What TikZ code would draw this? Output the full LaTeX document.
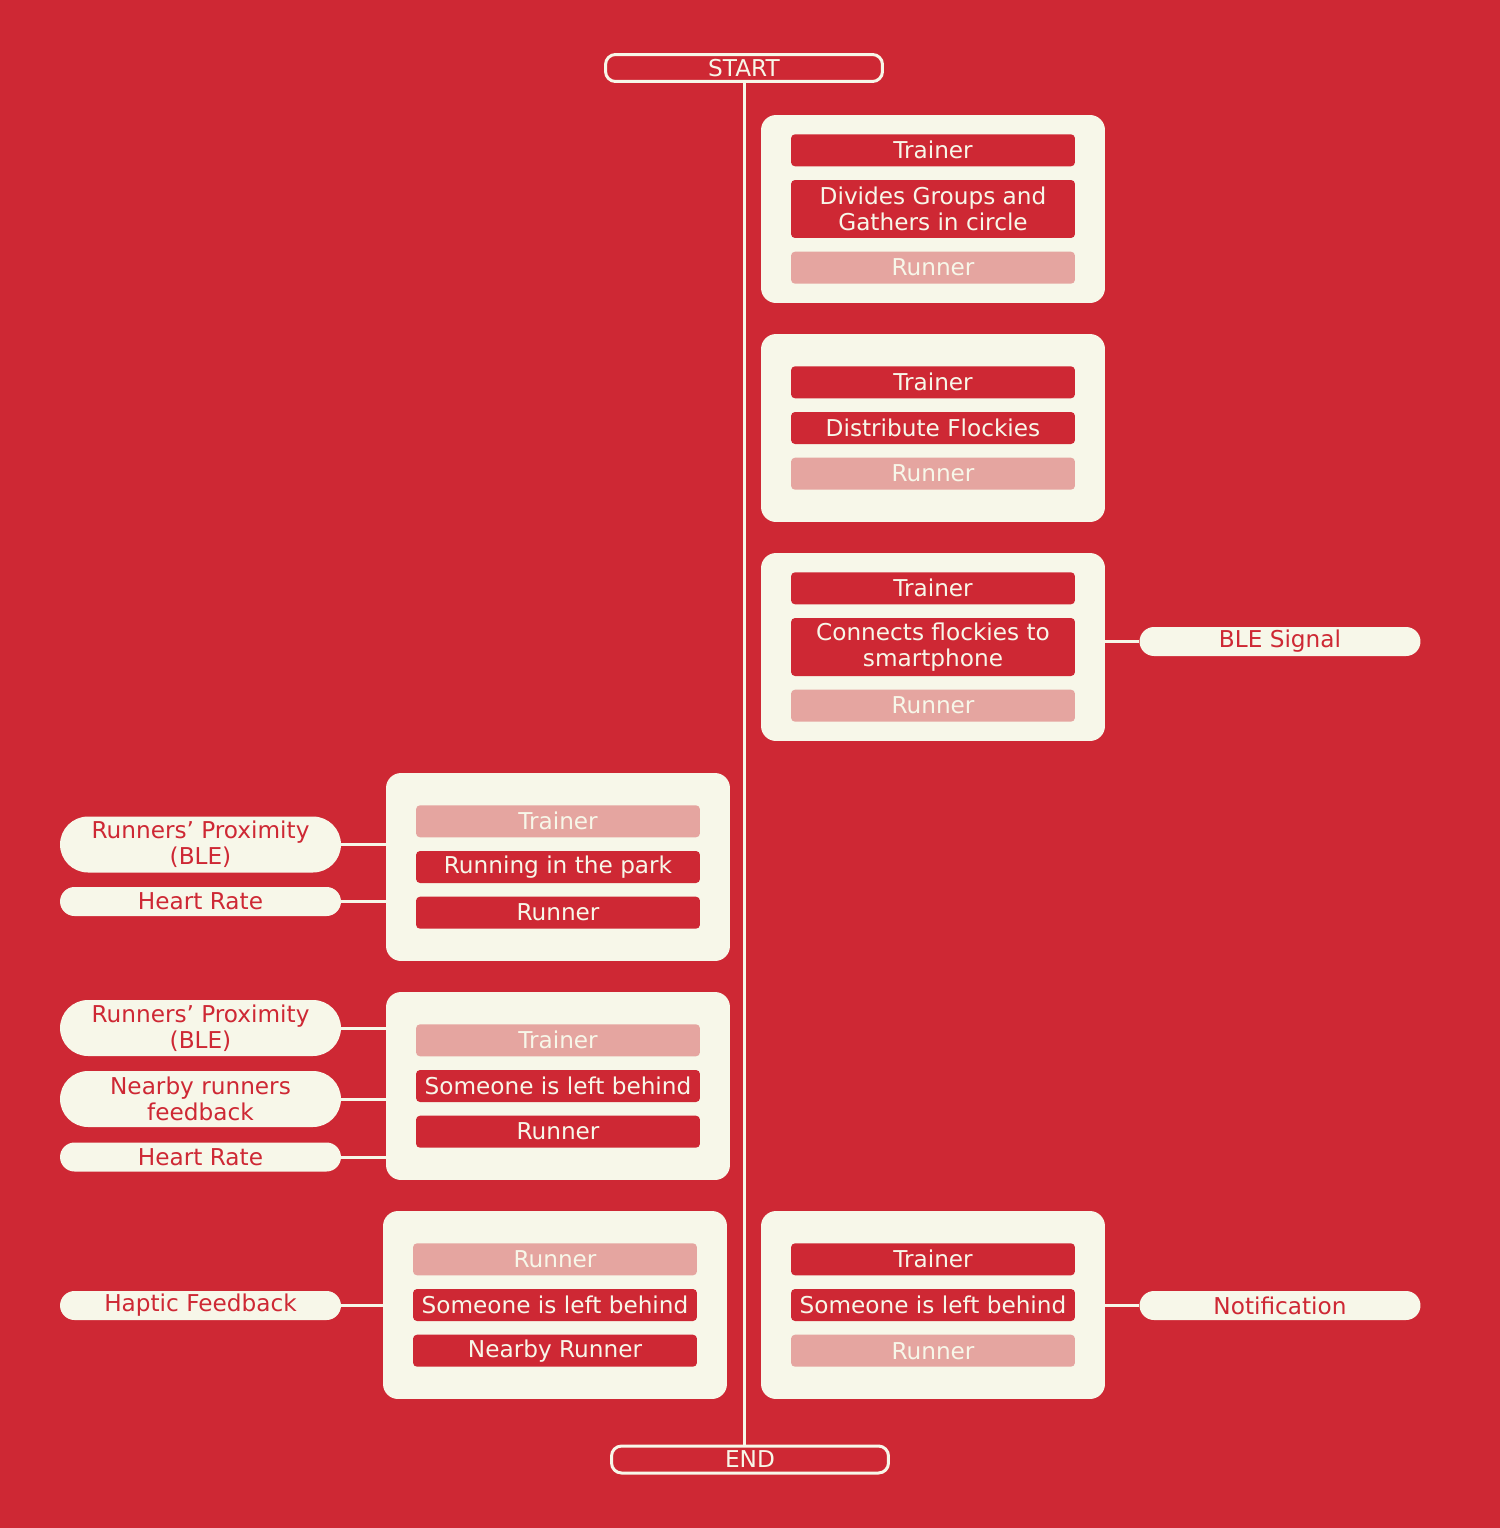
\documentclass[tikz,border=0pt]{standalone}
\usepackage{fontspec}
\setmainfont{DejaVu Sans}
\usetikzlibrary{positioning,shapes.misc}
\definecolor{flockred}{HTML}{CE2834}
\definecolor{cream}{HTML}{F7F7E9}
\definecolor{blush}{HTML}{E5A5A0}
\newcommand{\flockfont}{\fontsize{13.2}{15}\selectfont}
\tikzset{
  card/.style={fill=cream,rounded corners=0.3cm,minimum width=6.88cm,minimum height=3.76cm},
  bar/.style={fill=flockred,text=cream,rounded corners=0.08cm,minimum width=5.68cm,minimum height=0.64cm,inner sep=0pt,align=center,font=\flockfont},
  barlight/.style={bar,fill=blush},
  pill/.style={rounded rectangle,fill=cream,text=flockred,minimum width=5.62cm,minimum height=0.58cm,inner sep=0pt,align=center,font=\flockfont},
  terminal/.style={draw=cream,line width=0.06cm,rounded corners=0.2cm,text=cream,minimum width=5.54cm,minimum height=0.54cm,inner sep=0pt,font=\flockfont},
  link/.style={draw=cream,line width=0.06cm}
}
\begin{document}
\begin{tikzpicture}[x=0.02cm,y=-0.02cm]
  \fill[flockred] (0,0) rectangle (1500,1528);
  \useasboundingbox (0,0) rectangle (1500,1528);
  % start and end
  \node[terminal] (start) at (744,68) {START};
  \node[terminal] (end) at (750,1459.5) {END};
  \draw[link] (start.south) -- (start.south |- end.north);
  % right column
  \node[card] (gather) at (933,209) {};
  \node[bar,minimum height=1.16cm] (gathermid) at (gather) {Divides Groups and\\Gathers in circle};
  \node[bar,above=0.26cm of gathermid] (gathertop) {Trainer};
  \node[barlight,below=0.26cm of gathermid] (gatherbot) {Runner};

  \node[card] (distribute) at (933,428) {};
  \node[bar] (distributemid) at (distribute) {Distribute Flockies};
  \node[bar,above=0.26cm of distributemid] (distributetop) {Trainer};
  \node[barlight,below=0.26cm of distributemid] (distributebot) {Runner};

  \node[card] (connect) at (933,647) {};
  \node[bar,minimum height=1.16cm] (connectmid) at (connect) {Connects flockies to\\smartphone};
  \node[bar,above=0.26cm of connectmid] (connecttop) {Trainer};
  \node[barlight,below=0.26cm of connectmid] (connectbot) {Runner};
  \node[pill] (ble) at (1280,641.5) {BLE Signal};
  \draw[link] (connect.east |- ble) -- (ble.west);

  % left column
  \node[card] (running) at (558,867) {};
  \node[bar] (runningmid) at (running) {Running in the park};
  \node[barlight,above=0.26cm of runningmid] (runningtop) {Trainer};
  \node[bar,below=0.26cm of runningmid] (runningbot) {Runner};
  \node[pill,minimum height=1.12cm] (proxA) at (200.5,844.5) {Runners’ Proximity\\(BLE)};
  \node[pill] (heartA) at (200.5,901.5) {Heart Rate};
  \draw[link] (proxA.east) -- (proxA.east -| running.west);
  \draw[link] (heartA.east) -- (heartA.east -| running.west);

  \node[card] (behind) at (558,1086) {};
  \node[bar] (behindmid) at (behind) {Someone is left behind};
  \node[barlight,above=0.26cm of behindmid] (behindtop) {Trainer};
  \node[bar,below=0.26cm of behindmid] (behindbot) {Runner};
  \node[pill,minimum height=1.12cm] (proxB) at (200.5,1028) {Runners’ Proximity\\(BLE)};
  \node[pill,minimum height=1.12cm] (nearby) at (200.5,1099) {Nearby runners\\feedback};
  \node[pill] (heartB) at (200.5,1157) {Heart Rate};
  \draw[link] (proxB.east) -- (proxB.east -| behind.west);
  \draw[link] (nearby.east) -- (nearby.east -| behind.west);
  \draw[link] (heartB.east) -- (heartB.east -| behind.west);

  % bottom row
  \node[card] (haptic) at (555,1305) {};
  \node[bar] (hapticmid) at (haptic) {Someone is left behind};
  \node[barlight,above=0.26cm of hapticmid] (haptictop) {Runner};
  \node[bar,below=0.26cm of hapticmid] (hapticbot) {Nearby Runner};
  \node[pill] (hapticpill) at (200.5,1305.5) {Haptic Feedback};
  \draw[link] (hapticpill.east) -- (hapticpill.east -| haptic.west);

  \node[card] (notify) at (933,1305) {};
  \node[bar] (notifymid) at (notify) {Someone is left behind};
  \node[bar,above=0.26cm of notifymid] (notifytop) {Trainer};
  \node[barlight,below=0.26cm of notifymid] (notifybot) {Runner};
  \node[pill] (notification) at (1280,1305.5) {Notification};
  \draw[link] (notify.east |- notification) -- (notification.west);
\end{tikzpicture}
\end{document}
